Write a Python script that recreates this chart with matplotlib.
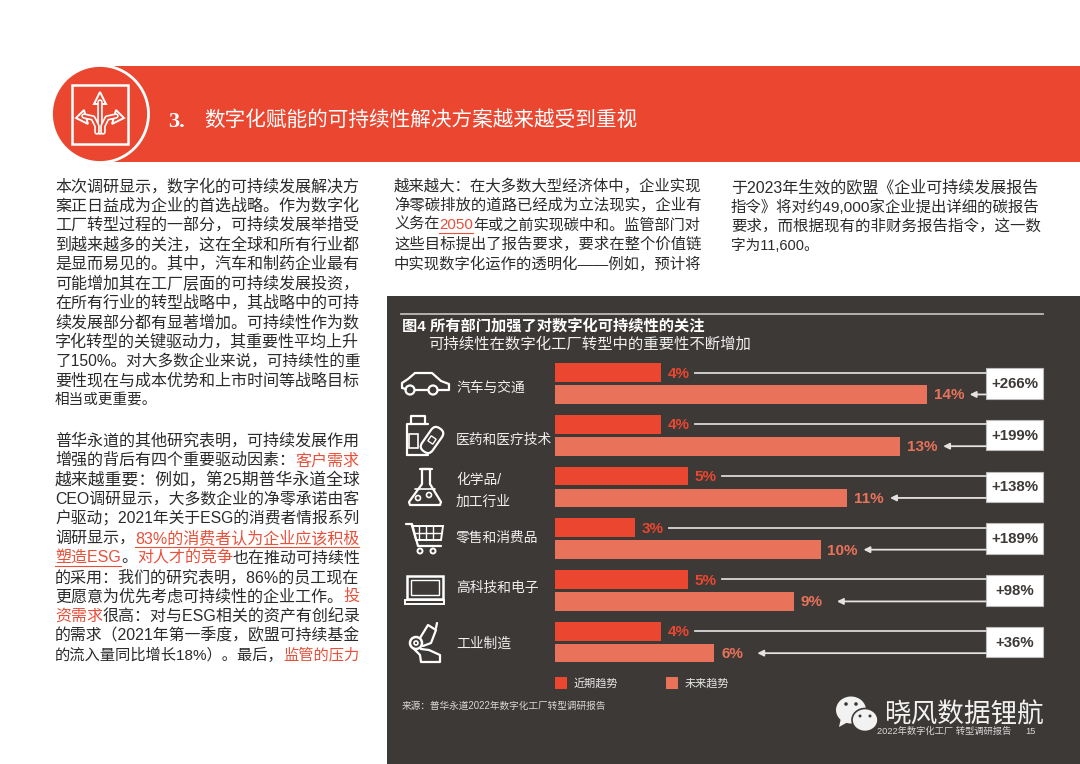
import matplotlib
matplotlib.use('Agg')
import matplotlib.pyplot as plt
from matplotlib.patches import Rectangle, Circle, Ellipse, Polygon, FancyBboxPatch

plt.rcParams['font.family'] = ['Liberation Sans', 'Noto Sans CJK SC']

# chart data
sectors = ['汽车与交通', '医药和医疗技术', '化学品/\n加工行业', '零售和消费品', '高科技和电子', '工业制造']
near_term = [4, 4, 5, 3, 5, 4]
future = [14, 13, 11, 10, 9, 6]
change = ['+266%', '+199%', '+138%', '+189%', '+98%', '+36%']
legend_names = ['近期趋势', '未来趋势']

RED = '#EA4630'
SALMON = '#E8735A'
DARK = '#3D3937'
BODY = '#2B2B2B'
LINK = '#E8503A'

# page text, a line is a string or a list of (text, colour, underline)
col1_a = ['本次调研显示，数字化的可持续发展解决方', '案正日益成为企业的首选战略。作为数字化',
          '工厂转型过程的一部分，可持续发展举措受', '到越来越多的关注，这在全球和所有行业都',
          '是显而易见的。其中，汽车和制药企业最有', '可能增加其在工厂层面的可持续发展投资，',
          '在所有行业的转型战略中，其战略中的可持', '续发展部分都有显著增加。可持续性作为数',
          '字化转型的关键驱动力，其重要性平均上升', '了150%。对大多数企业来说，可持续性的重',
          '要性现在与成本优势和上市时间等战略目标', '相当或更重要。']
col1_b = ['普华永道的其他研究表明，可持续发展作用',
          [('增强的背后有四个重要驱动因素：', BODY, False), ('客户需求', LINK, False)],
          '越来越重要：例如，第25期普华永道全球', 'CEO调研显示，大多数企业的净零承诺由客',
          '户驱动；2021年关于ESG的消费者情报系列',
          [('调研显示，', BODY, False), ('83%的消费者认为企业应该积极', LINK, True)],
          [('塑造ESG', LINK, True), ('。', BODY, False), ('对人才的竞争', LINK, False), ('也在推动可持续性', BODY, False)],
          '的采用：我们的研究表明，86%的员工现在',
          [('更愿意为优先考虑可持续性的企业工作。', BODY, False), ('投', LINK, False)],
          [('资需求', LINK, False), ('很高：对与ESG相关的资产有创纪录', BODY, False)],
          '的需求（2021年第一季度，欧盟可持续基金',
          [('的流入量同比增长18%）。最后，', BODY, False), ('监管的压力', LINK, False)]]
col2 = ['越来越大：在大多数大型经济体中，企业实现', '净零碳排放的道路已经成为立法现实，企业有',
        [('义务在', BODY, False), ('2050', LINK, True), ('年或之前实现碳中和。监管部门对', BODY, False)],
        '这些目标提出了报告要求，要求在整个价值链', '中实现数字化运作的透明化——例如，预计将']
col3 = ['于2023年生效的欧盟《企业可持续发展报告', '指令》将对约49,000家企业提出详细的碳报告',
        '要求，而根据现有的非财务报告指令，这一数', '字为11,600。']

fig = plt.figure(figsize=(10.8, 7.64), dpi=100)
page = fig.add_axes([0, 0, 1, 1])
page.set_xlim(0, 1080)
page.set_ylim(764, 0)
page.axis('off')
renderer = fig.canvas.get_renderer()


def draw_line(x, y, line, width=None, size=10.5):
    # one column line, stretched to the column width through the font size
    segs = [(line, BODY, False)] if isinstance(line, str) else line
    texts = [page.text(x, y, s[0], color=s[1], fontsize=size, va='center', ha='left') for s in segs]
    if width:
        total = sum(t.get_window_extent(renderer).width for t in texts)
        for t in texts:
            t.set_fontsize(size * width / total)
    pos = x
    for t, s in zip(texts, segs):
        t.set_x(pos)
        w = t.get_window_extent(renderer).width
        if s[2]:
            page.plot([pos, pos + w], [y + 8.5, y + 8.5], color=LINK, lw=0.8)
        pos += w


def draw_column(x, y0, lines, width, last_full=False):
    for i, line in enumerate(lines):
        full = last_full or i < len(lines) - 1
        draw_line(x, y0 + 19.45 * i, line, width if full else None)


def stroke(xs, ys, lw=1.6, color='white'):
    page.plot(xs, ys, color=color, lw=lw, solid_capstyle='round', solid_joinstyle='round')


# header banner
page.add_patch(Rectangle((100, 66), 980, 96, color=RED, lw=0))
page.add_patch(Circle((100, 114), 48.5, fc=RED, ec='white', lw=2))
page.add_patch(Rectangle((72, 85), 56, 59, fc='none', ec='white', lw=1.8))
for xs, ys in [([100, 100], [132, 102]),
               ([97, 97, 93, 84], [132, 126, 118, 116]),
               ([103, 103, 107, 116], [132, 126, 118, 116])]:
    stroke(xs, ys, lw=4)
    stroke(xs, ys, lw=1.6, color=RED)
for pts in [[(94, 104), (100, 92), (106, 104)], [(84, 110), (76, 118), (88, 124)], [(116, 110), (124, 118), (112, 124)]]:
    page.add_patch(Polygon(pts, fc=RED, ec='white', lw=1.4))
page.text(168, 122, '3.', color='white', fontsize=16, fontweight='bold', family='Liberation Serif', va='center')
page.text(204, 120.5, '数字化赋能的可持续性解决方案越来越受到重视', color='white', fontsize=14.85, va='center')

# body columns
draw_column(55, 186.5, col1_a, 306)
draw_column(55, 441, col1_b, 306, last_full=True)
draw_column(394, 186, col2, 308, last_full=True)
draw_column(731, 187.5, col3, 310)

# dark panel
page.add_patch(Rectangle((387, 296), 693, 468, color=DARK, lw=0))
page.plot([401, 1043], [314, 314], color='#BDBBB9', lw=1.3)
page.text(402, 325.5, '图4 所有部门加强了对数字化可持续性的关注', color='white', fontsize=11, fontweight='bold', va='center')
page.text(428, 344, '可持续性在数字化工厂转型中的重要性不断增加', color='#F0F0F0', fontsize=11.1, va='center')

# bars
px_per_pct = 26.55
pitch = 51.74
ax = fig.add_axes([555 / 1080, (764 - 662) / 764, (1043 - 555) / 1080, (662 - 363) / 764])
ax.patch.set_alpha(0)
ax.axis('off')
ax.set_xlim(0, (1043 - 555) / px_per_pct)
ax.set_ylim(5.383, -0.396)

groups = list(range(len(sectors)))
near_y = [g - 0.212 for g in groups]
future_y = [g + 0.212 for g in groups]
ax.barh(near_y, near_term, height=0.36, color=RED)
ax.barh(future_y, future, height=0.36, color=SALMON)

box_left = (986 - 555) / px_per_pct
box_w = (1043 - 986) / px_per_pct
for g in groups:
    ax.text(near_term[g] + 7 / px_per_pct, near_y[g] + 0.02, f'{near_term[g]}%', color=RED, fontsize=11,
            fontweight='bold', va='center')
    ax.text(future[g] + 7 / px_per_pct, future_y[g] + 0.02, f'{future[g]}%', color=SALMON, fontsize=11,
            fontweight='bold', va='center')
    ax.plot([near_term[g] + 34 / px_per_pct, box_left], [near_y[g], near_y[g]], color='#D9D8D7', lw=1.3)
    ax.annotate('', xy=(future[g] + 43 / px_per_pct, future_y[g]), xytext=(box_left, future_y[g]),
                arrowprops=dict(arrowstyle='-|>', color='#E4E3E2', lw=1.3, mutation_scale=9, shrinkA=0, shrinkB=0))
    ax.add_patch(Rectangle((box_left, g - 0.295), box_w, 0.59, fc='white', ec='#BDBBB9', lw=0.8, clip_on=False))
    ax.text(box_left + box_w / 2, g + 0.01, change[g], color=DARK, fontsize=10.8, fontweight='bold',
            ha='center', va='center')

# sector labels
label_y = [388, 440, 491, 538, 588, 644]
for name, y in zip(sectors, label_y):
    page.text(456, y, name, color='#F0F0F0', fontsize=9.9, va='center', linespacing=1.7)

# car
stroke([406, 402, 402, 408, 415, 432, 441, 449, 449, 438], [389, 388, 383, 379, 373, 373, 381, 384, 390, 390])
stroke([415, 428], [390, 390])
page.add_patch(Circle((410, 390), 4.5, fc='none', ec='white', lw=1.6))
page.add_patch(Circle((433, 390), 4.5, fc='none', ec='white', lw=1.6))
# medicine
stroke([407, 407, 428], [455, 424, 424])
stroke([407, 428], [455, 455])
stroke([411, 411, 425, 425], [424, 416, 416, 424])
page.add_patch(Rectangle((409, 434), 9, 14, fc='none', ec='white', lw=1.2))
page.add_patch(FancyBboxPatch((418, 433.5), 28, 13, boxstyle='round,pad=0,rounding_size=6', fc=DARK, ec='white', lw=1.6,
                              transform=matplotlib.transforms.Affine2D().rotate_deg_around(432, 440, -55) + page.transData))
page.add_patch(Rectangle((429, 437), 6, 6, fc='none', ec='white', lw=1,
                         transform=matplotlib.transforms.Affine2D().rotate_deg_around(432, 440, -55) + page.transData))
# flask
stroke([420, 432], [469, 469])
stroke([422, 422, 409, 410, 440, 441, 430, 430, 422], [469, 484, 502, 505, 505, 502, 484, 469, 469])
stroke([415, 435], [489, 489], lw=1.2)
page.add_patch(Circle((418, 498), 2.5, fc='none', ec='white', lw=1.2))
page.add_patch(Circle((429, 495), 2.5, fc='none', ec='white', lw=1.2))
# cart
stroke([406, 412, 418, 441], [524, 524, 546, 546])
page.add_patch(Polygon([(412, 526), (443, 526), (441, 540), (416, 540)], fc='none', ec='white', lw=1.4))
for x in [419, 426, 433]:
    stroke([x, x], [526, 540], lw=1)
stroke([414, 442], [533, 533], lw=1)
page.add_patch(Circle((420, 551), 2.5, fc='none', ec='white', lw=1.4))
page.add_patch(Circle((433, 551), 2.5, fc='none', ec='white', lw=1.4))
# laptop
page.add_patch(Rectangle((407, 576), 36, 23, fc='none', ec='white', lw=1.8))
page.add_patch(Rectangle((411, 580), 28, 15, fc='none', ec='white', lw=1))
page.add_patch(Rectangle((405, 600), 39, 4, fc='none', ec='white', lw=1.4))
# robot arm
page.add_patch(Circle((416, 643), 6, fc='none', ec='white', lw=1.8))
page.add_patch(Circle((416, 643), 2, fc='none', ec='white', lw=1.2))
stroke([420, 428, 436, 431, 423], [638, 625, 630, 643, 646])
stroke([436, 437], [628, 623])
stroke([421, 429, 440, 440, 421, 420, 414], [649, 650, 655, 662, 662, 655, 649])

# legend
for x, color, name in zip([555, 666], [RED, SALMON], legend_names):
    page.add_patch(Rectangle((x, 677), 11.5, 12, color=color, lw=0))
    page.text(x + 19, 683, name, color='#E8E8E8', fontsize=8, va='center')

page.text(402, 706, '来源：普华永道2022年数字化工厂转型调研报告', color='#D8D8D8', fontsize=6.95, va='center')

# watermark and footer
page.add_patch(Ellipse((851, 710), 30, 27, color='#F2F2F2', lw=0))
page.add_patch(Polygon([(841, 718), (839, 727), (848, 722)], color='#F2F2F2', lw=0))
page.add_patch(Ellipse((865, 720), 26, 23, fc='#F2F2F2', ec=DARK, lw=1.2))
for cx, cy, r in [(846, 704, 1.8), (856, 704, 1.8), (860, 716, 1.5), (870, 716, 1.5)]:
    page.add_patch(Circle((cx, cy), r, color=DARK, lw=0))
page.text(884, 716, '晓风数据锂航', color='#F2F2F2', fontsize=19.2, va='center')
page.text(877, 731, '2022年数字化工厂 转型调研报告', color='#D8D8D8', fontsize=6.7, va='center')
page.text(1025, 731, '15', color='#D8D8D8', fontsize=6.7, va='center')

fig.savefig('out.png', dpi=100)
